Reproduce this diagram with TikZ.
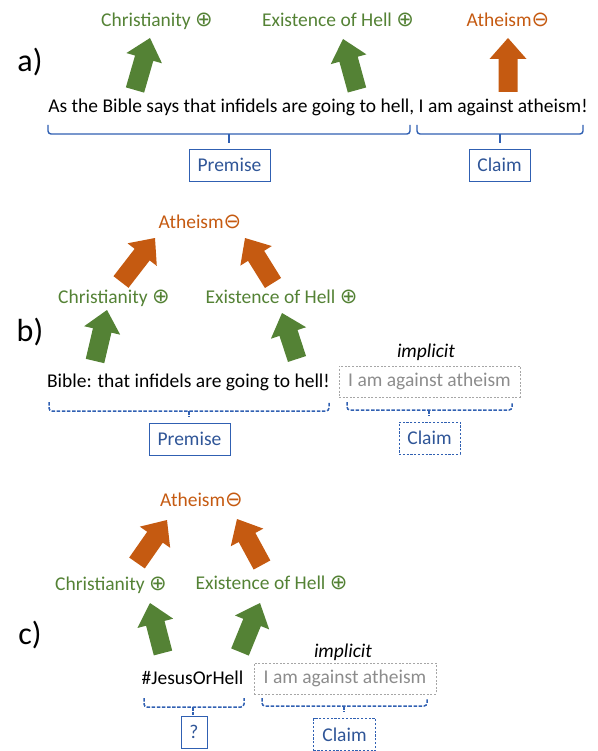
\documentclass[tikz,border=0pt]{standalone}
\usepackage{fontspec}
\setmainfont{Carlito}
\newfontfamily\symf{DejaVu Sans}
\usetikzlibrary{calc}
\definecolor{grn}{HTML}{548235}
\definecolor{org}{HTML}{C55A11}
\definecolor{lblue}{HTML}{2F5597}
\definecolor{brc}{HTML}{3060B2}
\definecolor{gbox}{HTML}{A6A6A6}
\definecolor{gtxt}{HTML}{8C8C8C}
\newcommand\plusg{{\symf\fontsize{21}{21}\selectfont ⊕}}
\newcommand\minusg{{\symf\fontsize{21}{21}\selectfont ⊖}}
% block arrow: #1 colour, #2 base coordinate, #3 tip coordinate
\newcommand\blockarrow[3]{%
  \coordinate (nk) at ($(#3)!21pt!(#2)$);
  \fill[#1] ($(#2)!9.5pt!90:(#3)$) -- ($(nk)!9.5pt!-90:(#2)$) -- ($(nk)!18.5pt!-90:(#2)$)
    -- (#3) -- ($(nk)!18.5pt!90:(#2)$) -- ($(nk)!9.5pt!90:(#2)$) -- ($(#2)!9.5pt!-90:(#3)$) -- cycle;}
% under-brace: #1 options, #2 x1, #3 x2, #4 xm, #5 ytop, #6 ybar, #7 ytick
\newcommand\ubrace[7][]{%
  \draw[bracestyle,#1,rounded corners=3pt] (#2,#5) -- (#2,#6) -- (#3,#6) -- (#3,#5);
  \draw[bracestyle,#1] (#4,#6) -- (#4,#7);}
\begin{document}
\begin{tikzpicture}[x=1pt,y=-1pt,
  every node/.style={inner sep=0pt, font=\fontsize{19.5}{23}\selectfont},
  panel/.style={font=\fontsize{32}{35}\selectfont},
  posl/.style={text=grn, anchor=base},
  negl/.style={text=org, anchor=base},
  sent/.style={anchor=base, text=black},
  impl/.style={anchor=base, font=\fontsize{19.5}{23}\selectfont\itshape},
  lbox/.style={draw=brc, line width=0.9pt, text=lblue, minimum height=32pt},
  dbox/.style={lbox, dash pattern=on 2.2pt off 1.6pt},
  gboxs/.style={draw=gbox, line width=0.8pt, dash pattern=on 2pt off 1.6pt, text=gtxt, minimum height=31pt},
  bracestyle/.style={draw=brc, line width=1.4pt},
  dbrace/.style={line width=1.5pt, dash pattern=on 3.5pt off 1.6pt}
]
\useasboundingbox (0,0) rectangle (597,751);

% ---------------- a) ----------------
\node[panel] (pa) at (30,62) {a)};
\node[posl] (chra) at (157,27) {Christianity \plusg};
\node[posl] (hella) at (338,27) {Existence of Hell \plusg};
\node[negl] (atha) at (508,27) {Atheism\minusg};
\node[sent] (senta) at (318,113) {As the Bible says that infidels are going to hell, I am against atheism!};
\coordinate (a1b) at (135,90); \coordinate (a1t) at (150,38);
\coordinate (a2b) at (357,90); \coordinate (a2t) at (343,39);
\coordinate (a3b) at (508,92); \coordinate (a3t) at (508,38);
\blockarrow{grn}{a1b}{a1t}
\blockarrow{grn}{a2b}{a2t}
\blockarrow{org}{a3b}{a3t}
\ubrace{48}{410}{229}{125}{134}{143}
\ubrace{417}{583}{500}{125}{134}{143}
\node[lbox, minimum width=81pt] (prema) at (229.5,165) {Premise};
\node[lbox, minimum width=61pt] (claima) at (499.5,165) {Claim};

% ---------------- b) ----------------
\node[panel] (pb) at (30,332) {b)};
\node[negl] (athb) at (200,229) {Atheism\minusg};
\node[posl] (chrb) at (114,303) {Christianity \plusg};
\node[posl] (hellb) at (281.5,303) {Existence of Hell \plusg};
\node[sent] (sentb) at (188.5,387) {Bible: that infidels are going to hell!};
\node[impl] (implb) at (426,357) {implicit};
\node[gboxs, minimum width=181pt] (impb) at (429.5,381.5) {I am against atheism};
\coordinate (b1b) at (121,282); \coordinate (b1t) at (155,238);
\coordinate (b2b) at (273,283); \coordinate (b2t) at (245,238);
\coordinate (b3b) at (95,361); \coordinate (b3t) at (107,310);
\coordinate (b4b) at (297,359); \coordinate (b4t) at (282,313);
\blockarrow{org}{b1b}{b1t}
\blockarrow{org}{b2b}{b2t}
\blockarrow{grn}{b3b}{b3t}
\blockarrow{grn}{b4b}{b4t}
\ubrace[dbrace]{49}{329}{189}{402}{411}{417}
\ubrace[dbrace]{347}{512}{429}{402}{410}{416}
\node[lbox, minimum width=81pt] (premb) at (189.5,439) {Premise};
\node[dbox, minimum width=61pt] (claimb) at (429.5,438) {Claim};

% ---------------- c) ----------------
\node[panel] (pc) at (30,635) {c)};
\node[negl] (athc) at (201.5,506) {Atheism\minusg};
\node[posl] (chrc) at (111,590) {Christianity \plusg};
\node[posl] (hellc) at (271.5,589) {Existence of Hell \plusg};
\node[sent] (hash) at (192.5,684) {\#JesusOrHell};
\node[impl] (implc) at (343,657) {implicit};
\node[gboxs, minimum width=182pt] (impc) at (345,678.5) {I am against atheism};
\coordinate (c1b) at (137,563); \coordinate (c1t) at (167,520);
\coordinate (c2b) at (262,565); \coordinate (c2t) at (237,519);
\coordinate (c3b) at (163,653); \coordinate (c3t) at (150,603);
\coordinate (c4b) at (240,652); \coordinate (c4t) at (260,603);
\blockarrow{org}{c1b}{c1t}
\blockarrow{org}{c2b}{c2t}
\blockarrow{grn}{c3b}{c3t}
\blockarrow{grn}{c4b}{c4t}
\ubrace[dbrace]{144}{244}{193}{698}{707}{715}
\ubrace[dbrace]{262}{427}{344}{698}{706}{712}
\node[lbox, minimum width=26pt] (qc) at (194,732) {?};
\node[dbox, minimum width=62pt] (claimc) at (344.5,734.5) {Claim};
\end{tikzpicture}
\end{document}
